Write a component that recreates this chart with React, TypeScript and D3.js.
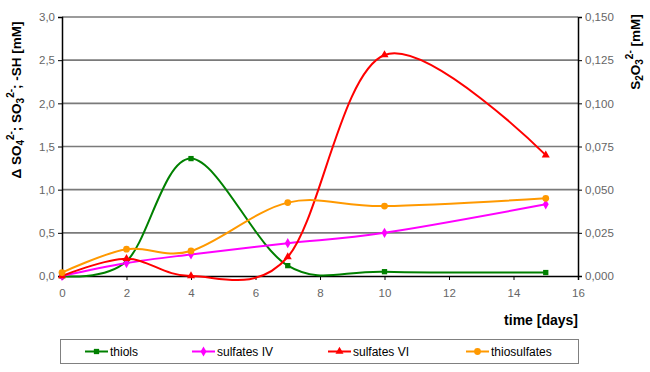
import { useEffect, useRef } from "react";
import * as d3 from "d3";

const days = [0, 2, 4, 7, 10, 15];
const thiols = [0, 0.17, 1.36, 0.12, 0.05, 0.04];
const sulfatesIV = [0, 0.15, 0.25, 0.38, 0.5, 0.83];
const sulfatesVI = [0, 0.2, 0, 0.22, 2.56, 1.4];
const thiosulfates = [0.002, 0.0155, 0.0145, 0.0425, 0.0405, 0.045];
const xTicks = [0, 2, 4, 6, 8, 10, 12, 14, 16];
const leftTicks = [0, 0.5, 1, 1.5, 2, 2.5, 3];
const rightTicks = [0, 0.025, 0.05, 0.075, 0.1, 0.125, 0.15];

const series = [
  { name: "thiols", values: thiols, color: "#008000", shape: "square", right: false, lx: 85 },
  { name: "sulfates IV", values: sulfatesIV, color: "#ff00ff", shape: "diamond", right: false, lx: 192 },
  { name: "sulfates VI", values: sulfatesVI, color: "#ff0000", shape: "triangle", right: false, lx: 328 },
  { name: "thiosulfates", values: thiosulfates, color: "#ff9900", shape: "circle", right: true, lx: 466 },
];

const W = 650;
const H = 372;

export default function App() {
  const ref = useRef<SVGSVGElement | null>(null);

  useEffect(() => {
    const svg = d3.select(ref.current!);
    svg.selectAll("*").remove();

    const x = d3.scaleLinear().domain([0, 16]).range([62, 578]);
    const yL = d3.scaleLinear().domain([0, 3]).range([276, 17]);
    const yR = d3.scaleLinear().domain([0, 0.15]).range([276, 17]);
    const font = "Liberation Sans, Arial, sans-serif";

    svg.append("rect").attr("width", W).attr("height", H).attr("fill", "#fff");

    // grid
    svg
      .append("g")
      .selectAll("line")
      .data(leftTicks.filter((t) => t > 0))
      .join("line")
      .attr("x1", x(0))
      .attr("x2", x(16))
      .attr("y1", (d) => yL(d))
      .attr("y2", (d) => yL(d))
      .attr("stroke", "#7a7a7a")
      .attr("stroke-width", 1.6);

    const axL = svg
      .append("g")
      .attr("transform", `translate(${x(0)},0)`)
      .call(
        d3
          .axisLeft(yL)
          .tickValues(leftTicks)
          .tickSize(4)
          .tickFormat((d) => d3.format(".1f")(d as number).replace(".", ","))
      );
    const axR = svg
      .append("g")
      .attr("transform", `translate(${x(16)},0)`)
      .call(
        d3
          .axisRight(yR)
          .tickValues(rightTicks)
          .tickSize(4)
          .tickFormat((d) => d3.format(".3f")(d as number).replace(".", ","))
      );
    const axB = svg
      .append("g")
      .attr("transform", `translate(0,${yL(0)})`)
      .call(d3.axisBottom(x).tickValues(xTicks).tickSize(4).tickFormat(d3.format("d")));

    [axL, axR, axB].forEach((a) => {
      a.select(".domain").attr("stroke", "#000").attr("stroke-width", 1.5);
      a.selectAll(".tick line").attr("stroke", "#000");
      a.selectAll(".tick text")
        .attr("fill", "#666")
        .style("font", `11.5px ${font}`);
    });
    axB.selectAll(".tick text").attr("dy", "1.2em");

    const line = d3.line<[number, number]>().curve(d3.curveCardinal.tension(0));

    series.forEach((s) => {
      const y = s.right ? yR : yL;
      const pts: [number, number][] = days.map((d, i) => [x(d), y(s.values[i])]);
      svg
        .append("path")
        .attr("d", line(pts))
        .attr("fill", "none")
        .attr("stroke", s.color)
        .attr("stroke-width", 2);
    });

    const marker = (g: any, shape: string, color: string, cx: number, cy: number) => {
      const sym =
        shape === "square"
          ? d3.symbolSquare
          : shape === "diamond"
          ? d3.symbolDiamond
          : shape === "triangle"
          ? d3.symbolTriangle
          : d3.symbolCircle;
      const size = shape === "diamond" ? 30 : shape === "circle" ? 36 : 28;
      g.append("path")
        .attr("d", d3.symbol(sym, size)())
        .attr("transform", `translate(${cx},${cy})`)
        .attr("fill", color);
    };

    series.forEach((s) => {
      const y = s.right ? yR : yL;
      const g = svg.append("g");
      days.forEach((d, i) => marker(g, s.shape, s.color, x(d), y(s.values[i])));
    });

    // axis titles
    const lt = svg
      .append("text")
      .attr("transform", `translate(21,100) rotate(-90)`)
      .attr("text-anchor", "middle")
      .style("font", `bold 13.5px ${font}`)
      .attr("fill", "#000");
    lt.append("tspan").text("Δ SO");
    lt.append("tspan").attr("dy", 3).style("font-size", "10px").text("4");
    lt.append("tspan").attr("dy", -10).style("font-size", "10px").text("2-");
    lt.append("tspan").attr("dy", 7).text("; SO");
    lt.append("tspan").attr("dy", 3).style("font-size", "10px").text("3");
    lt.append("tspan").attr("dy", -10).style("font-size", "10px").text("2-");
    lt.append("tspan").attr("dy", 7).text("; -SH [mM]");

    const rt = svg
      .append("text")
      .attr("transform", `translate(640,52) rotate(-90)`)
      .attr("text-anchor", "middle")
      .style("font", `bold 13.5px ${font}`)
      .attr("fill", "#000");
    rt.append("tspan").text("S");
    rt.append("tspan").attr("dy", 3).style("font-size", "10px").text("2");
    rt.append("tspan").attr("dy", -3).text("O");
    rt.append("tspan").attr("dy", 3).style("font-size", "10px").text("3");
    rt.append("tspan").attr("dy", -10).style("font-size", "10px").text("2-");
    rt.append("tspan").attr("dy", 7).text(" [mM]");

    svg
      .append("text")
      .attr("x", 578)
      .attr("y", 325)
      .attr("text-anchor", "end")
      .style("font", `bold 14px ${font}`)
      .text("time [days]");

    // legend
    svg
      .append("rect")
      .attr("x", 60.5)
      .attr("y", 339.5)
      .attr("width", 518)
      .attr("height", 24)
      .attr("fill", "#fff")
      .attr("stroke", "#808080")
      .attr("stroke-width", 1);

    series.forEach((s) => {
      const g = svg.append("g");
      g.append("line")
        .attr("x1", s.lx)
        .attr("x2", s.lx + 23)
        .attr("y1", 351.5)
        .attr("y2", 351.5)
        .attr("stroke", s.color)
        .attr("stroke-width", 2);
      marker(g, s.shape, s.color, s.lx + 11.5, 351.5);
      g.append("text")
        .attr("x", s.lx + 25)
        .attr("y", 356)
        .style("font", `12px ${font}`)
        .attr("fill", "#000")
        .text(s.name);
    });
  }, []);

  return (
    <svg
      ref={ref}
      width={W}
      height={H}
      style={{ position: "absolute", left: 0, top: 0 }}
    />
  );
}
